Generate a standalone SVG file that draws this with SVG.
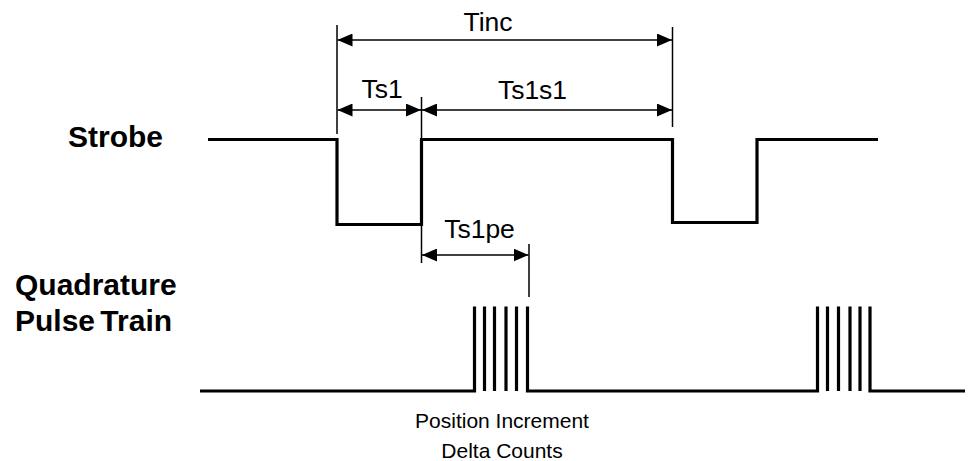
<svg xmlns="http://www.w3.org/2000/svg" width="980" height="461" viewBox="0 0 980 461">
  <defs>
    <marker id="ah" viewBox="0 0 15 13" refX="15" refY="6.5" markerWidth="15" markerHeight="13" markerUnits="userSpaceOnUse" orient="auto-start-reverse">
      <path d="M0,0 L15,6.5 L0,13 Z" fill="#000"/>
    </marker>
  </defs>
  <style>
    .wave { fill: none; stroke: #000; stroke-width: 3.2; stroke-linejoin: miter; stroke-linecap: butt; }
    .tick { fill: none; stroke: #000; stroke-width: 1.5; }
    .dim { fill: none; stroke: #000; stroke-width: 1.5; marker-start: url(#ah); marker-end: url(#ah); }
    .lbl { font-family: "Liberation Sans", Arial, sans-serif; font-size: 26.5px; fill: #000; text-anchor: middle; }
    .cap { font-family: "Liberation Sans", Arial, sans-serif; font-size: 21px; fill: #000; text-anchor: middle; }
    .sig { font-family: "Liberation Sans", Arial, sans-serif; font-size: 30px; font-weight: bold; fill: #000; }
  </style>
  <rect width="980" height="461" fill="#fff"/>

  <g id="strobe-label">
    <text class="sig" x="68" y="147">Strobe</text>
  </g>
  <g id="quadrature-label">
    <text class="sig" x="15" y="295">Quadrature</text>
    <text class="sig" x="15" y="331" word-spacing="-3">Pulse Train</text>
  </g>

  <g id="strobe-signal">
    <path class="wave" d="M208,139.5 H337 V224.5 H421.5 V139.5 H672.5 V222.5 H757 V139.5 H878"/>
  </g>

  <g id="pulse-signal">
    <path class="wave" d="M200,391 H474.5 V306.5 M484.5,306.5 V391 M494.5,306.5 V391 M506,306.5 V391 M516.5,306.5 V391 M527.5,306.5 V391 H817.5 V306.5 M827.5,306.5 V391 M838.5,306.5 V391 M850,306.5 V391 M860,306.5 V391 M870,306.5 V391 H965"/>
  </g>

  <g id="connectors">
    <path class="tick" d="M337,25 V134"/>
    <path class="tick" d="M421.5,97 V263"/>
    <path class="tick" d="M672.5,27 V127"/>
    <path class="tick" d="M529,244 V297"/>
    <path class="dim" d="M337.5,40 H672"/>
    <path class="dim" d="M337.5,110 H421"/>
    <path class="dim" d="M422,110 H672"/>
    <path class="dim" d="M422,255 H528.5"/>
  </g>

  <g id="tinc">
    <text class="lbl" x="488" y="31">Tinc</text>
  </g>
  <g id="ts1">
    <text class="lbl" x="382" y="97.5">Ts1</text>
  </g>
  <g id="ts1s1">
    <text class="lbl" x="532.5" y="98.5">Ts1s1</text>
  </g>
  <g id="ts1pe">
    <text class="lbl" x="479.5" y="238">Ts1pe</text>
  </g>
  <g id="caption">
    <text class="cap" x="502" y="428">Position Increment</text>
    <text class="cap" x="502" y="458">Delta Counts</text>
  </g>
</svg>
